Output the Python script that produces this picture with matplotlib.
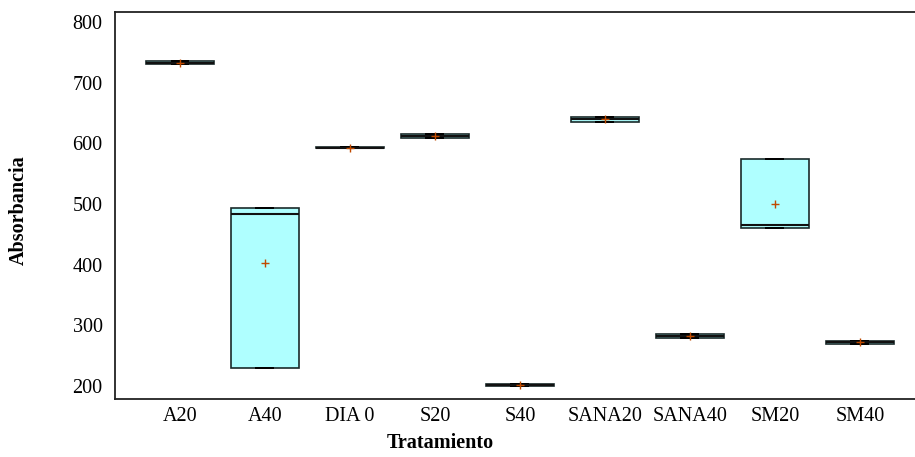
import matplotlib
matplotlib.use("Agg")
import matplotlib.pyplot as plt

# Data (three replicates per treatment: min, median, max, mean)
categories = ["A20", "A40", "DIA 0", "S20", "S40", "SANA20", "SANA40", "SM20", "SM40"]
lows    = [731, 230, 592, 609, 200, 636, 279, 460, 269]
medians = [733, 483, 593, 612, 202, 640, 282, 466, 272]
highs   = [735, 494, 594, 616, 204, 644, 285, 575, 275]
means   = [733, 402, 593, 612, 202, 640, 282, 500, 272]
yticks  = [200, 300, 400, 500, 600, 700, 800]

plt.rcParams['font.family'] = ['Liberation Serif', 'DejaVu Serif']

W, H = 915, 457
fig = plt.figure(figsize=(W / 100, H / 100), dpi=100)
left, right, top, bottom = 115, 915, 12, 399
ax = fig.add_axes([left / W, (H - bottom) / H, (right - left) / W, (bottom - top) / H])

stats = []
for c, lo, md, hi, mn in zip(categories, lows, medians, highs, means):
    stats.append(dict(label=c, whislo=lo, q1=lo, med=md, q3=hi, whishi=hi, mean=mn, fliers=[]))

ax.bxp(stats, positions=range(len(categories)), widths=0.8, capwidths=0.2,
       patch_artist=True, showmeans=True, showfliers=False,
       boxprops=dict(facecolor='#AFFFFF', edgecolor='#1a2a2a', linewidth=1.2),
       medianprops=dict(color='#111111', linewidth=1.5),
       whiskerprops=dict(color='#111111', linewidth=1.2),
       capprops=dict(color='#000000', linewidth=1.4),
       meanprops=dict(marker='+', markeredgecolor='#C04A00', markersize=6, markeredgewidth=1.0))

ax.set_xlim(-0.765, 8.65)
ax.set_ylim(178.6, 816.5)
ax.set_yticks(yticks)
ax.set_yticklabels([str(v) for v in yticks])
ax.set_xticks(range(len(categories)))
ax.set_xticklabels(categories)
ax.tick_params(axis='both', length=0, labelsize=14.5)
ax.tick_params(axis='y', pad=9)
ax.tick_params(axis='x', pad=6)
for s in ['left', 'bottom', 'top']:
    ax.spines[s].set_linewidth(1.3)
    ax.spines[s].set_color('#222222')
ax.spines['right'].set_visible(False)

fig.text(440 / W, 1 - 443 / H, "Tratamiento", ha='center', va='center', fontsize=14.5, fontweight='bold')
fig.text(19 / W, 1 - 210 / H, "Absorbancia", ha='center', va='center', rotation=90, fontsize=14.5, fontweight='bold')

fig.savefig("out.png", dpi=100)
